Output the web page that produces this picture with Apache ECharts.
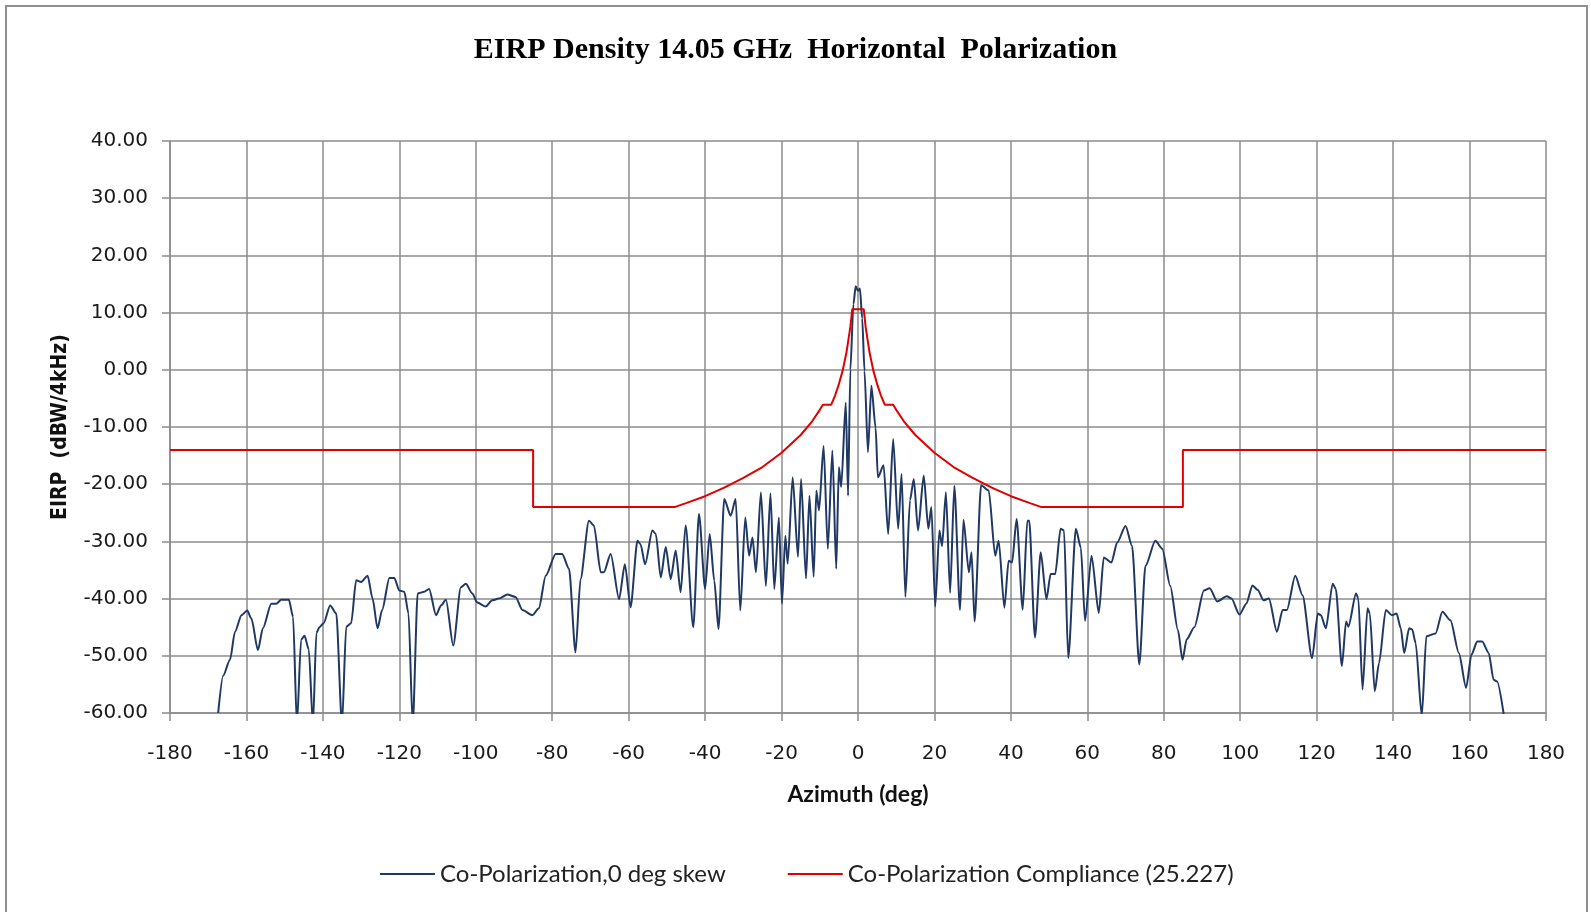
<!DOCTYPE html>
<html>
<head>
<meta charset="utf-8">
<title>EIRP Density 14.05 GHz Horizontal Polarization</title>
<script src="https://cdn.jsdelivr.net/npm/echarts@6/dist/echarts.min.js"></script>
<style>
  html, body { margin: 0; padding: 0; background: #fff; overflow: hidden; }
  #chart { width: 1591px; height: 912px; }
  #frame {
    position: absolute; left: 5px; top: 5px; width: 1579px; height: 1000px;
    border: 2px solid #8f8f8f; pointer-events: none;
  }
</style>
</head>
<body>
<div id="chart"></div>
<div id="frame"></div>
<script>
// measured co-pol pattern (deg, dBW/4kHz)
const coPolAz = [
  -167.4, -166.1, -164.3, -163, -161.3, -159.8, -158.7, -157, -155.7, -153.5,
  -152.2, -150.9, -148.9, -147.8, -146.8, -145.7, -144.8, -143.7, -142.6, -141.7,
  -140.9, -139.8, -138.1, -136.5, -135, -133.9, -132.6, -131.3, -130, -128.3,
  -127, -125.7, -124.5, -122.6, -121.3, -120, -118.7, -117.6, -116.5, -115.2,
  -113.5, -112.2, -110.4, -109.1, -107.8, -105.9, -103.9, -102.6, -100.9, -99.6,
  -97.4, -95.7, -94, -91.7, -89.6, -87.8, -85.2, -83.5, -81.7, -79.1,
  -77.4, -75.6, -73.9, -72.6, -70.4, -69.1, -67.3, -66.5, -64.7, -62.5,
  -61, -59.5, -57.7, -56.9, -55.7, -53.8, -52.9, -51.6, -50.3, -49,
  -47.7, -46.4, -45.1, -43.1, -41.6, -40, -38.8, -37.6, -36.5, -35,
  -33.3, -32, -30.8, -29.5, -28.5, -27.6, -26.7, -25.4, -24.1, -22.9,
  -21.9, -20.7, -19.9, -19, -18.4, -17.1, -15.7, -14.9, -13.6, -12.7,
  -11.6, -10.9, -10.2, -9, -7.9, -6.7, -5.7, -5, -4.4, -3.2,
  -2.6, -2, -1.2, -0.6, 0, 0.5, 1.1, 1.7, 2.6, 3.5, 4.6, 5.2,
  6.7, 7.9, 9.2, 10.5, 11.4, 12.4, 13.6, 14.6, 15.7, 17.2,
  18.4, 19.2, 20.2, 21.3, 22, 23, 24.1, 25.2, 26.7, 27.6,
  29, 29.7, 30.5, 32.2, 34.2, 35.9, 36.8, 38.3, 39.4, 40.3,
  41.5, 43.1, 44.3, 44.8, 46.3, 47.8, 49.3, 50.4, 51.6, 53,
  53.9, 55, 57, 58.3, 59.4, 61.1, 63, 64.3, 66.3, 67.8,
  70, 71.7, 73.6, 75.2, 77.8, 79.6, 81.7, 83.7, 84.9, 86,
  88, 90.5, 92, 94, 96.5, 97.7, 99.8, 101.6, 103.2, 104.6,
  106.1, 107.5, 109.6, 111.1, 112.2, 114.4, 116.3, 118.8, 120.3, 121.1,
  122.4, 124.2, 125, 126.6, 127.7, 128.3, 130.3, 130.9, 132, 133.3,
  133.9, 135.2, 136.3, 138.1, 139.7, 140.9, 142, 142.9, 144.2, 145,
  145.9, 147.5, 148.7, 151.1, 152.9, 155, 157.2, 159.1, 160.5, 162,
  163.3, 165, 166.3, 167.2, 169
];
const coPolEirp = [
  -60, -53.5, -50.7, -45.8, -42.9, -42.1, -43.5, -49, -45.2, -40.9,
  -40.9, -40.2, -40.2, -43.2, -62, -47.2, -46.5, -48.9, -62, -46,
  -45, -44.3, -41.2, -42.6, -62, -44.9, -44.3, -36.8, -37.1, -36,
  -40, -45.2, -42, -36.4, -36.4, -38.6, -38.8, -42.6, -62, -39.1,
  -38.8, -38.3, -42.9, -41.2, -40.2, -48.2, -38, -37.4, -39.1, -40.7,
  -41.4, -40.3, -40, -39.3, -39.7, -42, -42.9, -41.7, -36, -32.2,
  -32.2, -34.8, -49.4, -36.6, -26.4, -27.2, -35.4, -35.4, -32.2, -40.1,
  -34, -41.5, -29.9, -30.5, -34, -28.1, -28.7, -36.3, -31, -36.6,
  -31.6, -38.9, -27.2, -45, -25.2, -38.3, -28.7, -36.9, -45.3, -22.6,
  -25.5, -22.6, -42.1, -25.8, -32.5, -29.3, -35.4, -21.4, -37.8, -21.6,
  -38.3, -25.8, -40.9, -29, -33.9, -18.8, -32.7, -19.1, -36.5, -22,
  -36.2, -21.1, -24.6, -13.3, -31.3, -14.1, -34.8, -17, -20.5, -5.7,
  -22, 0, 11.5, 14.6, 13.8, 14.2, 9, -0.2, -14.4, -2.8, -10.1, -18.8,
  -16.7, -28.7, -12.1, -27.8, -18.2, -39.7, -22.8, -19.1, -28.1, -18.5,
  -27.8, -24, -41.4, -28.1, -30.8, -21.4, -39, -20.3, -42, -26.2,
  -35.4, -31.9, -44, -20.2, -21.1, -32.5, -29.9, -41.6, -33.4, -33.7,
  -26.1, -41.9, -26.4, -26.4, -46.8, -31.9, -40.1, -35.7, -35.7, -27.8,
  -28.1, -50.4, -27.8, -31.1, -43.9, -32.5, -42.5, -32.8, -33.7, -30.2,
  -27.3, -30.8, -51.5, -34.3, -29.9, -31.3, -37.8, -45.5, -50.7, -47.1,
  -45, -38.6, -38.2, -40.5, -39.6, -40, -42.8, -40.9, -37.7, -38.5,
  -40.3, -40, -45.8, -42, -42, -36, -39.4, -50.4, -42.6, -42.9,
  -45.2, -37.4, -38.3, -51.8, -44, -44.9, -39.1, -40, -55.9, -41.7,
  -42.6, -56.2, -51.3, -42, -42.9, -42.6, -45.2, -49.5, -45.2, -45.4,
  -47.8, -60.5, -46.6, -46.1, -42.3, -43.8, -49.5, -55.6, -49.8, -47.5,
  -47.5, -49.5, -54.2, -54.5, -60.5
];

// compliance mask
const maskAz = [
  -180, -85, -85, -48, -45, -40, -35, -30, -25, -20, -15, -12, -10, -9.2,
  -7, -6, -5, -4, -3, -2, -1.5, 1.5, 2, 3, 4, 5, 6, 7,
  9.2, 10, 12, 15, 20, 25, 30, 35, 40, 45, 48, 85, 85, 180
];
const maskEirp = [
  -14, -14, -24, -24, -23.3, -22.1, -20.6, -18.9, -17, -14.5, -11.4, -9, -7, -6.1,
  -6.1, -4.5, -2.5, -0.1, 3.1, 7.5, 10.6, 10.6, 7.5, 3.1, -0.1, -2.5, -4.5, -6.1,
  -6.1, -7, -9, -11.4, -14.5, -17, -18.9, -20.6, -22.1, -23.3, -24, -24, -14, -14
];

const seriesNames = ['Co-Polarization,0 deg skew', 'Co-Polarization Compliance (25.227)'];

const chart = echarts.init(document.getElementById('chart'));
const gridColor = '#8c8c8c';
const labelFont = "'DejaVu Sans', Verdana, sans-serif";

chart.setOption({
  animation: false,
  backgroundColor: '#fff',
  title: {
    text: 'EIRP Density 14.05 GHz  Horizontal  Polarization',
    left: 'center',
    top: 30,
    textStyle: { fontFamily: "'Liberation Serif', 'Times New Roman', serif", fontWeight: 'bold', fontSize: 30, color: '#000' }
  },
  grid: { left: 170, right: 45, top: 141, bottom: 199 },
  legend: {
    data: seriesNames,
    left: 375,
    top: 857,
    icon: 'rect',
    itemWidth: 55,
    itemHeight: 2,
    itemGap: 62,
    textStyle: { fontFamily: "Lato, 'Open Sans', sans-serif", fontSize: 24, color: '#222' }
  },
  xAxis: {
    type: 'value',
    min: -180, max: 180, interval: 20,
    name: 'Azimuth (deg)',
    nameLocation: 'middle',
    nameGap: 70,
    nameTextStyle: { fontFamily: "Lato, 'Open Sans', sans-serif", fontWeight: 'bold', fontSize: 23, color: '#111' },
    axisLine: { show: true, onZero: false, lineStyle: { color: gridColor, width: 1.5 } },
    axisTick: { show: true, inside: false, length: 8, lineStyle: { color: gridColor, width: 1.5 } },
    axisLabel: { margin: 31, fontFamily: labelFont, fontSize: 20, color: '#1a1a1a' },
    splitLine: { show: true, lineStyle: { color: gridColor, width: 1.5 } }
  },
  yAxis: {
    type: 'value',
    min: -60, max: 40, interval: 10,
    name: 'EIRP  (dBW/4kHz)',
    nameLocation: 'middle',
    nameGap: 99,
    nameTextStyle: { fontFamily: "'DejaVu Sans Condensed', 'DejaVu Sans', sans-serif", fontWeight: 'bold', fontSize: 21, color: '#111' },
    axisLine: { show: true, onZero: false, lineStyle: { color: gridColor, width: 1.5 } },
    axisTick: { show: true, inside: false, length: 8, lineStyle: { color: gridColor, width: 1.5 } },
    axisLabel: { margin: 22, fontFamily: labelFont, fontSize: 20, color: '#1a1a1a', formatter: v => v.toFixed(2) },
    splitLine: { show: true, lineStyle: { color: gridColor, width: 1.5 } }
  },
  series: [
    {
      name: seriesNames[0],
      type: 'line',
      data: coPolAz.map((a, i) => [a, coPolEirp[i]]),
      showSymbol: false,
      smooth: 0.25,
      smoothMonotone: 'x',
      clip: true,
      itemStyle: { color: '#1f3864' },
      lineStyle: { color: '#1f3864', width: 2 },
      z: 3
    },
    {
      name: seriesNames[1],
      type: 'line',
      data: maskAz.map((a, i) => [a, maskEirp[i]]),
      showSymbol: false,
      clip: true,
      itemStyle: { color: '#e00000' },
      lineStyle: { color: '#e00000', width: 2 },
      z: 4
    }
  ]
});
</script>
</body>
</html>
